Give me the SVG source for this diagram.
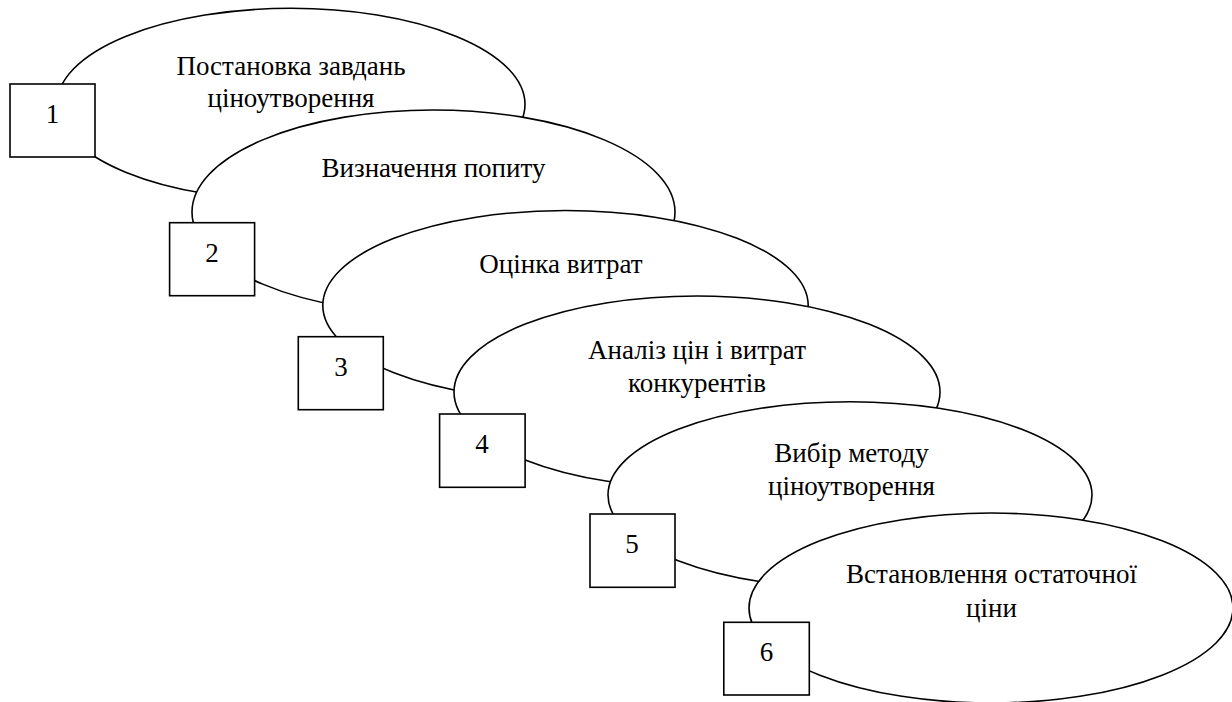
<svg xmlns="http://www.w3.org/2000/svg" width="1232" height="702" viewBox="0 0 1232 702">
<style>
.oval{fill:#fff;stroke:#000;stroke-width:1.6}
.box{fill:#fff;stroke:#000;stroke-width:1.6}
.lbl{font-family:"Liberation Serif","Times New Roman",serif;font-size:27px;fill:#000;text-anchor:middle}
</style>
<rect width="1232" height="702" fill="#fff"/>
<g id="step1">
<ellipse class="oval" cx="291" cy="104.3" rx="234" ry="96"/>
<text class="lbl" x="291" y="75">Постановка завдань</text>
<text class="lbl" x="291" y="107">ціноутворення</text>
<rect class="box" x="10" y="84" width="85" height="73"/>
<text class="lbl" x="52.5" y="123">1</text>
</g>
<g id="step2">
<ellipse class="oval" cx="433.5" cy="212" rx="241.5" ry="102"/>
<text class="lbl" x="433.5" y="177">Визначення попиту</text>
<rect class="box" x="169.6" y="222.7" width="85" height="73"/>
<text class="lbl" x="212" y="262">2</text>
</g>
<g id="step3">
<ellipse class="oval" cx="565.5" cy="305.5" rx="242.7" ry="95"/>
<text class="lbl" x="561" y="273">Оцінка витрат</text>
<rect class="box" x="298.3" y="336.7" width="85" height="73"/>
<text class="lbl" x="341" y="376">3</text>
</g>
<g id="step4">
<ellipse class="oval" cx="697" cy="392" rx="243" ry="96"/>
<text class="lbl" x="697" y="359">Аналіз цін і витрат</text>
<text class="lbl" x="697" y="391.5">конкурентів</text>
<rect class="box" x="439.6" y="414" width="85.5" height="73.3"/>
<text class="lbl" x="482" y="453">4</text>
</g>
<g id="step5">
<ellipse class="oval" cx="850" cy="495" rx="242" ry="93.3"/>
<text class="lbl" x="851.5" y="462">Вибір методу</text>
<text class="lbl" x="851.5" y="495">ціноутворення</text>
<rect class="box" x="590" y="514" width="85" height="73.3"/>
<text class="lbl" x="632" y="553">5</text>
</g>
<g id="step6">
<ellipse class="oval" cx="991" cy="608" rx="242" ry="95"/>
<text class="lbl" x="991.5" y="583">Встановлення остаточної</text>
<text class="lbl" x="991.5" y="617">ціни</text>
<rect class="box" x="723.8" y="622.3" width="85.5" height="72.7"/>
<text class="lbl" x="766.5" y="661">6</text>
</g>
</svg>
